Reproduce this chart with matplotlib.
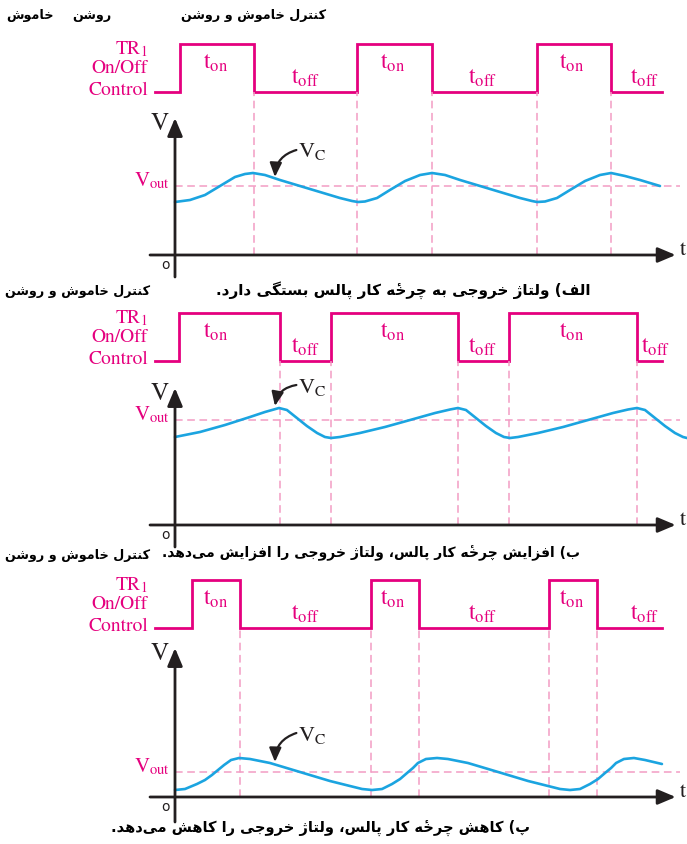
import matplotlib
matplotlib.use("Agg")
import matplotlib.pyplot as plt

W, H = 687, 844
PX = 17.85   # pixels per time unit
VS = 10.0    # pixels per volt unit
X0 = 175     # pixel column of the origin

PINK = "#e5007e"
PINK_L = "#f29cc4"
BLUE = "#1ba4e0"
BLACK = "#231f20"

# --- data: pulse edges (time units) and capacitor voltage ---
rise_a = [0.3, 10.2, 20.3]
fall_a = [4.4, 14.4, 24.4]
t_a = [0, 0.84, 1.68, 2.52, 3.36, 3.92, 4.37, 5.04, 5.88, 7.0, 8.12, 9.24, 9.92, 10.25,
       10.64, 11.32, 12.04, 12.89, 13.73, 14.4, 15.13, 15.97, 17.09, 18.21, 19.33, 20.0,
       20.28, 20.73, 21.4, 22.13, 22.97, 23.81, 24.43, 25.21, 26.05, 27.17]
v_a = [5.3, 5.5, 6.0, 6.9, 7.8, 8.1, 8.2, 8.0, 7.5, 6.9, 6.3, 5.7, 5.4, 5.3,
       5.35, 5.7, 6.5, 7.4, 8.0, 8.2, 8.0, 7.5, 6.9, 6.3, 5.7, 5.4,
       5.3, 5.35, 5.7, 6.5, 7.4, 8.0, 8.2, 7.9, 7.5, 6.9]
vout_a = 6.9

rise_b = [0.22, 8.74, 18.71]
fall_b = [5.88, 15.85, 25.88]
t_b = [0, 1.4, 2.8, 4.2, 5.04, 5.83, 6.27, 6.83, 7.39, 7.96, 8.4, 8.74, 9.24, 10.36,
       11.76, 13.17, 14.57, 15.41, 15.85, 16.3, 16.86, 17.42, 17.98, 18.43, 18.77, 19.22,
       20.34, 21.74, 23.14, 24.54, 25.38, 25.88, 26.33, 26.89, 27.45, 28.01, 28.46, 28.68]
v_b = [8.8, 9.3, 10.0, 10.8, 11.3, 11.7, 11.5, 10.7, 9.9, 9.2, 8.8, 8.7, 8.8, 9.2,
       9.8, 10.5, 11.2, 11.55, 11.7, 11.5, 10.7, 9.9, 9.2, 8.8, 8.7, 8.8,
       9.2, 9.8, 10.5, 11.2, 11.55, 11.7, 11.5, 10.7, 9.9, 9.2, 8.8, 8.7]
vout_b = 10.5

rise_c = [0.95, 10.98, 20.95]
fall_c = [3.64, 13.67, 23.64]
t_c = [0, 0.56, 1.23, 1.68, 2.07, 2.41, 2.75, 3.14, 3.59, 4.2, 5.32, 6.44, 7.56, 8.68,
       9.8, 10.48, 11.04, 11.6, 12.16, 12.61, 13.0, 13.33, 13.61, 14.06, 14.68, 15.29,
       16.41, 17.54, 18.66, 19.78, 20.9, 21.57, 22.13, 22.69, 23.25, 23.7, 24.09, 24.43,
       24.71, 25.15, 25.71, 26.33, 27.28]
v_c = [0.7, 0.8, 1.3, 1.7, 2.2, 2.7, 3.2, 3.7, 3.9, 3.8, 3.4, 2.8, 2.2, 1.6,
       1.1, 0.8, 0.7, 0.8, 1.3, 1.8, 2.4, 2.9, 3.4, 3.8, 3.9, 3.8,
       3.4, 2.8, 2.2, 1.6, 1.1, 0.8, 0.7, 0.8, 1.3, 1.8, 2.4, 2.9,
       3.4, 3.8, 3.9, 3.7, 3.3]
vout_c = 2.5

pulse_start, pulse_end = -1.1, 27.3

top_line = ["کنترل خاموش و روشن", "روشن", "خاموش"]
title_txt = "کنترل خاموش و روشن"
cap_a = "الف) ولتاژ خروجی به چرخۀ کار پالس بستگی دارد."
cap_b = "ب) افزایش چرخۀ کار پالس، ولتاژ خروجی را افزایش می\u200cدهد."
cap_c = "پ) کاهش چرخۀ کار پالس، ولتاژ خروجی را کاهش می\u200cدهد."

# Persian letters -> (isolated, final, initial, medial)
FORMS = {
    "ا": ("\ufe8d", "\ufe8e", None, None),
    "ب": ("\ufe8f", "\ufe90", "\ufe91", "\ufe92"),
    "پ": ("\ufb56", "\ufb57", "\ufb58", "\ufb59"),
    "ت": ("\ufe95", "\ufe96", "\ufe97", "\ufe98"),
    "ج": ("\ufe9d", "\ufe9e", "\ufe9f", "\ufea0"),
    "چ": ("\ufb7a", "\ufb7b", "\ufb7c", "\ufb7d"),
    "خ": ("\ufea5", "\ufea6", "\ufea7", "\ufea8"),
    "د": ("\ufea9", "\ufeaa", None, None),
    "ر": ("\ufead", "\ufeae", None, None),
    "ز": ("\ufeaf", "\ufeb0", None, None),
    "ژ": ("\ufb8a", "\ufb8b", None, None),
    "س": ("\ufeb1", "\ufeb2", "\ufeb3", "\ufeb4"),
    "ش": ("\ufeb5", "\ufeb6", "\ufeb7", "\ufeb8"),
    "ف": ("\ufed1", "\ufed2", "\ufed3", "\ufed4"),
    "ک": ("\ufb8e", "\ufb8f", "\ufb90", "\ufb91"),
    "گ": ("\ufb92", "\ufb93", "\ufb94", "\ufb95"),
    "ل": ("\ufedd", "\ufede", "\ufedf", "\ufee0"),
    "م": ("\ufee1", "\ufee2", "\ufee3", "\ufee4"),
    "ن": ("\ufee5", "\ufee6", "\ufee7", "\ufee8"),
    "ه": ("\ufee9", "\ufeea", "\ufeeb", "\ufeec"),
    "و": ("\ufeed", "\ufeee", None, None),
    "ی": ("\ufbfc", "\ufbfd", "\ufbfe", "\ufbff"),
}
MARKS = "\u0654"


def fa(s):
    # join letters and flip to visual order (matplotlib has no bidi)
    s = s.replace("ۀ", "ه\u0654")
    clusters = []
    for i, c in enumerate(s):
        if c in MARKS and clusters:
            clusters[-1] += c
            continue
        if c not in FORMS:
            clusters.append(c)
            continue
        prev = s[i - 1] if i > 0 else ""
        nxt = s[i + 1] if i + 1 < len(s) else ""
        jp = prev in FORMS and FORMS[prev][2] is not None
        jn = nxt in FORMS and FORMS[c][2] is not None
        iso, fin, ini, med = FORMS[c]
        clusters.append(med if jp and jn else fin if jp else ini if jn else iso)
    mirror = {"(": ")", ")": "("}
    vis = [mirror.get(ch, ch) for ch in reversed(clusters) if ch != "\u200c"]
    return "".join(vis)


plt.rcParams["mathtext.fontset"] = "stix"
plt.rcParams["font.family"] = "STIXGeneral"

fig = plt.figure(figsize=(W / 100, H / 100), dpi=100)


def band(top_px, bot_px, ylim):
    ax = fig.add_axes([0, 1 - bot_px / H, 1, (bot_px - top_px) / H])
    ax.set_xlim(-X0 / PX, (W - X0) / PX)
    ax.set_ylim(*ylim)
    ax.axis("off")
    return ax


def fa_text(x, y, s, size, ha="right"):
    fig.text(x / W, 1 - y / H, fa(s), ha=ha, va="center", fontsize=size,
             fontweight="bold", family=["DejaVu Sans"], color="black")


ton_lbl = [2.3, 12.2, 22.2]
toff_lbl = [7.3, 17.25, 26.3]

panels = [
    dict(rise=rise_a, fall=fall_a, t=t_a, v=v_a, vout=vout_a, hi=44, lo=92, axis=255,
         tip=118, stub=277, vc=(9.8, 10.5, 7.8), toff=toff_lbl),
    dict(rise=rise_b, fall=fall_b, t=t_b, v=v_b, vout=vout_b, hi=313, lo=361, axis=525,
         tip=388, stub=547, vc=(13.2, 14.0, 11.9), toff=[7.3, 17.25, 26.9]),
    dict(rise=rise_c, fall=fall_c, t=t_c, v=v_c, vout=vout_c, hi=580, lo=628, axis=797,
         tip=648, stub=822, vc=(5.6, 6.4, 3.5), toff=toff_lbl),
]

for p in panels:
    # pulse train
    ap = band(p["hi"], p["lo"], (0, 1))
    xs, ys = [pulse_start], [0]
    for r, f in zip(p["rise"], p["fall"]):
        xs += [r, r, f, f]
        ys += [0, 1, 1, 0]
    xs.append(pulse_end)
    ys.append(0)
    ap.plot(xs, ys, color=PINK, lw=2.0, clip_on=False, solid_joinstyle="miter")
    for x in ton_lbl:
        ap.text(x, 0.6, r"$\mathrm{t_{on}}$", ha="center", va="center", fontsize=17, color=PINK)
    for x in p["toff"]:
        ap.text(x, 0.3, r"$\mathrm{t_{off}}$", ha="center", va="center", fontsize=17, color=PINK)
    lx = -27 / PX
    ap.text(lx, 0.9, r"TR$_1$", ha="right", va="center", fontsize=14, color=PINK)
    ap.text(lx, 0.5, "On/Off", ha="right", va="center", fontsize=14, color=PINK)
    ap.text(lx, 0.04, "Control", ha="right", va="center", fontsize=14, color=PINK)

    # capacitor voltage
    top = (p["axis"] - p["lo"]) / VS
    av = band(p["lo"], p["axis"], (0, top))
    edges = p["fall"] + p["rise"][1:]
    av.vlines(edges, 0, top, colors=PINK_L, linestyles=(0, (5, 3)), lw=1.1, clip_on=False)
    av.hlines(p["vout"], 0, 28.3, colors=PINK_L, linestyles=(0, (5, 3)), lw=1.1)
    av.plot(p["t"], p["v"], color=BLUE, lw=1.9, clip_on=False, solid_capstyle="round")
    head = dict(arrowstyle="-|>,head_length=0.9,head_width=0.38", lw=2.0, color=BLACK,
                mutation_scale=12, shrinkA=0, shrinkB=0)
    av.annotate("", xy=(28.05, 0), xytext=(-25 / PX, 0), arrowprops=head, annotation_clip=False)
    av.annotate("", xy=(0, (p["axis"] - p["tip"]) / VS),
                xytext=(0, -(p["stub"] - p["axis"]) / VS), arrowprops=head, annotation_clip=False)
    av.text(28.3, 0.5, "t", ha="left", va="center", fontsize=16, color=BLACK, clip_on=False)
    av.text(-0.84, (p["axis"] - p["tip"] - 6) / VS, "V", ha="center", va="center",
            fontsize=18, color=BLACK)
    av.text(-0.56, -1.0, "o", ha="center", va="center", fontsize=10, color=BLACK,
            family=["DejaVu Sans"], clip_on=False)
    av.text(-5 / PX, p["vout"], r"V$_{\mathrm{out}}$", ha="right", va="baseline",
            fontsize=15, color=PINK)
    yt, ys0, ytip = p["vc"]
    av.text(6.9, yt, r"V$_{\mathrm{C}}$", ha="left", va="baseline", fontsize=16, color=BLACK)
    av.annotate("", xy=(5.6, ytip), xytext=(6.8, ys0),
                arrowprops=dict(arrowstyle="-|>,head_length=0.7,head_width=0.3", lw=1.6,
                                color=BLACK, mutation_scale=12, shrinkA=0, shrinkB=0,
                                connectionstyle="arc3,rad=0.35"))

# Persian headings and captions
fa_text(326, 15, top_line[0], 9.2)
fa_text(92, 15, top_line[1], 9.2, ha="center")
fa_text(30, 15, top_line[2], 9.2, ha="center")
fa_text(150, 292, title_txt, 9.2)
fa_text(590, 290, cap_a, 11)
fa_text(150, 556, title_txt, 9.2)
fa_text(580, 553, cap_b, 10)
fa_text(530, 828, cap_c, 10.5)

fig.savefig("out.png", dpi=100, facecolor="white")
